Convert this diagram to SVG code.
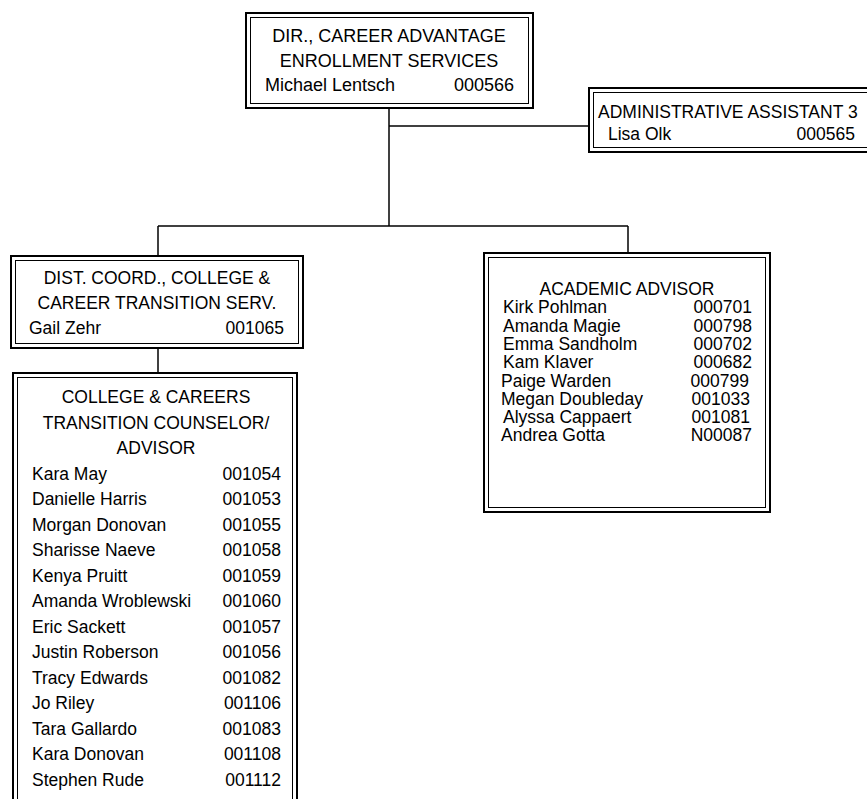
<svg xmlns="http://www.w3.org/2000/svg" width="867" height="799" viewBox="0 0 867 799">
<style>
.o{fill:#fff;stroke:#000;stroke-width:2}
.i{fill:none;stroke:#000;stroke-width:1}
text{font-family:"Liberation Sans",Arial,sans-serif;font-size:17.5px;fill:#000}
.c{text-anchor:middle}
.r{text-anchor:end}
.big{font-size:18px}
#connectors line{stroke:#000;stroke-width:1.5}
</style>
<rect width="867" height="799" fill="#fff"/>
<g id="connectors">
<line x1="389" y1="109" x2="389" y2="226"/>
<line x1="389" y1="126" x2="588" y2="126"/>
<line x1="158" y1="226" x2="628" y2="226"/>
<line x1="158" y1="226" x2="158" y2="256"/>
<line x1="628" y1="226" x2="628" y2="253"/>
<line x1="158" y1="348" x2="158" y2="373"/>
</g>
<g id="dir">
<rect class="o" x="246" y="13" width="287" height="95"/>
<rect class="i" x="250.5" y="17.5" width="278" height="86"/>
<text class="c big" x="389" y="42">DIR., CAREER ADVANTAGE</text>
<text class="c big" x="389" y="66.5">ENROLLMENT SERVICES</text>
<text class="big" x="265" y="91">Michael Lentsch</text>
<text class="r big" x="514" y="91">000566</text>
</g>
<g id="admin">
<rect class="o" x="589" y="88" width="282" height="64"/>
<rect class="i" x="593.5" y="92.5" width="282" height="55"/>
<text x="598" y="118">ADMINISTRATIVE ASSISTANT 3</text>
<text x="608" y="140">Lisa Olk</text>
<text class="r" x="855" y="140">000565</text>
</g>
<g id="dist">
<rect class="o" x="11" y="256" width="292" height="92"/>
<rect class="i" x="15.5" y="260.5" width="283" height="83"/>
<text class="c" x="157" y="284">DIST. COORD., COLLEGE &amp;</text>
<text class="c" x="157" y="309">CAREER TRANSITION SERV.</text>
<text x="29" y="334">Gail Zehr</text>
<text class="r" x="284" y="334">001065</text>
</g>
<g id="counselors">
<rect class="o" x="13" y="373" width="284" height="440"/>
<rect class="i" x="17.5" y="377.5" width="275" height="440"/>
<text class="c" x="156" y="403">COLLEGE &amp; CAREERS</text>
<text class="c" x="156" y="428.5">TRANSITION COUNSELOR/</text>
<text class="c" x="156" y="454">ADVISOR</text>
<text x="32" y="479.5">Kara May</text><text class="r" x="281" y="479.5">001054</text>
<text x="32" y="505">Danielle Harris</text><text class="r" x="281" y="505">001053</text>
<text x="32" y="530.5">Morgan Donovan</text><text class="r" x="281" y="530.5">001055</text>
<text x="32" y="556">Sharisse Naeve</text><text class="r" x="281" y="556">001058</text>
<text x="32" y="581.5">Kenya Pruitt</text><text class="r" x="281" y="581.5">001059</text>
<text x="32" y="607">Amanda Wroblewski</text><text class="r" x="281" y="607">001060</text>
<text x="32" y="632.5">Eric Sackett</text><text class="r" x="281" y="632.5">001057</text>
<text x="32" y="658">Justin Roberson</text><text class="r" x="281" y="658">001056</text>
<text x="32" y="683.5">Tracy Edwards</text><text class="r" x="281" y="683.5">001082</text>
<text x="32" y="709">Jo Riley</text><text class="r" x="281" y="709">001106</text>
<text x="32" y="734.5">Tara Gallardo</text><text class="r" x="281" y="734.5">001083</text>
<text x="32" y="760">Kara Donovan</text><text class="r" x="281" y="760">001108</text>
<text x="32" y="785.5">Stephen Rude</text><text class="r" x="281" y="785.5">001112</text>
</g>
<g id="academic">
<rect class="o" x="484" y="253" width="286" height="259"/>
<rect class="i" x="488.5" y="257.5" width="277" height="250"/>
<text class="c" x="627" y="295">ACADEMIC ADVISOR</text>
<text x="503" y="313.3">Kirk Pohlman</text><text class="r" x="752" y="313.3">000701</text>
<text x="503" y="331.6">Amanda Magie</text><text class="r" x="752" y="331.6">000798</text>
<text x="503" y="349.9">Emma Sandholm</text><text class="r" x="752" y="349.9">000702</text>
<text x="503" y="368.2">Kam Klaver</text><text class="r" x="752" y="368.2">000682</text>
<text x="501" y="386.5">Paige Warden</text><text class="r" x="749" y="386.5">000799</text>
<text x="501" y="404.8">Megan Doubleday</text><text class="r" x="750" y="404.8">001033</text>
<text x="503" y="423.1">Alyssa Cappaert</text><text class="r" x="750" y="423.1">001081</text>
<text x="501" y="441.4">Andrea Gotta</text><text class="r" x="752" y="441.4">N00087</text>
</g>
</svg>
